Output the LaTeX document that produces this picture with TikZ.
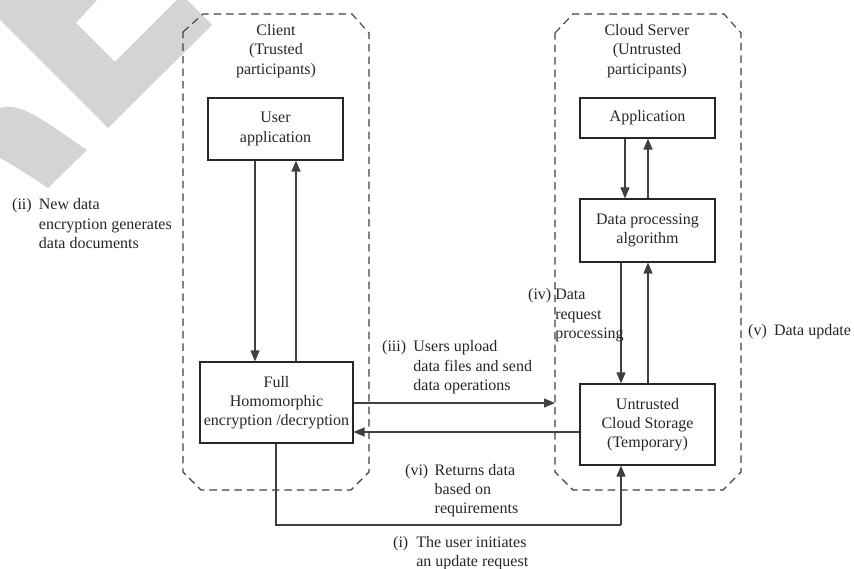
\documentclass[tikz,border=0pt]{standalone}
\usepackage{fontspec}
\setmainfont{Liberation Serif}
\usetikzlibrary{arrows.meta,calc}
\begin{document}
\begin{tikzpicture}[x=1pt,y=-1pt,
  every node/.style={font=\fontsize{16}{19.2}\selectfont, text=black!85},
  box/.style={draw=black!85, line width=1.1pt, align=center, inner sep=2pt},
  region/.style={draw=black!75, line width=1.1pt, dash pattern=on 7.5pt off 5pt},
  arr/.style={draw=black!75, line width=1.1pt, -{Triangle[length=11pt,width=9pt]}},
  ln/.style={draw=black!75, line width=1.1pt},
  lbl/.style={anchor=base west, inner sep=0pt}]
\useasboundingbox (0,0) rectangle (854,569);
% watermark
\fill[black!17] (0,0) -- (97,0) -- (76,23) -- (115,62) -- (177,0) -- (187,0) -- (212,25) -- (108,128) -- (0,20) -- cycle;
\fill[black!17] (0,108) .. controls (20,102) and (40,118) .. (87,150) -- (48,188) .. controls (30,176) and (15,166) .. (0,158) -- cycle;
% regions
\draw[region] (183,32) -- (203,14) -- (352,14) -- (369,33) -- (369,472) -- (351,490) -- (201,490) -- (183,472) -- cycle;
\draw[region] (555,33) -- (573,14) -- (724,14) -- (741,33) -- (741,472) -- (723,490) -- (573,490) -- (555,472) -- cycle;
\coordinate (srvleft) at (555,403);
% headers
\node[align=center] (client) at (276,51) {Client\\(Trusted\\participants)};
\node[align=center] (server) at (647,51) {Cloud Server\\(Untrusted\\participants)};
% boxes
\node[box, minimum width=135pt, minimum height=62pt] (ua) at (275.5,129) {User\\application};
\node[box, minimum width=135pt, minimum height=40pt] (app) at (647.5,118) {Application};
\node[box, minimum width=135pt, minimum height=63pt] (dpa) at (647.5,230.5) {Data processing\\algorithm};
\node[box, minimum width=135pt, minimum height=81pt] (ucs) at (647.5,424.5) {Untrusted\\Cloud Storage\\(Temporary)};
\node[box, minimum width=153pt, minimum height=81pt] (fhe) at (276.5,402.5) {Full\\Homomorphic\\encryption /decryption};
% connectors
\draw[arr] ([xshift=-20.5pt]ua.south) -- ([xshift=-20.5pt]ua.south |- fhe.north);
\draw[arr] ([xshift=20.5pt]ua.south |- fhe.north) -- ([xshift=20.5pt]ua.south);
\draw[arr] ([xshift=-22.5pt]app.south) -- ([xshift=-22.5pt]app.south |- dpa.north);
\draw[arr] ([xshift=0.5pt]app.south |- dpa.north) -- ([xshift=0.5pt]app.south);
\draw[arr] ([xshift=-26.5pt]dpa.south) -- ([xshift=-26.5pt]dpa.south |- ucs.north);
\draw[arr] ([xshift=0.5pt]dpa.south |- ucs.north) -- ([xshift=0.5pt]dpa.south);
\draw[arr] (fhe.east |- srvleft) -- (srvleft);
\draw[arr] (ucs.west |- 0,432) -- (fhe.east |- 0,432);
\coordinate (bl) at (276,525);
\coordinate (br) at (621,525);
\draw[ln] (fhe.south -| bl) -- (bl) -- (br);
\draw[arr] (br) -- (br |- ucs.south);
% labels
\node[lbl] (l2) at (12,210) {\begin{tabular}[t]{@{}l@{\hspace{0.45em}}l@{}}(ii)&New data\\&encryption generates\\&data documents\end{tabular}};
\node[lbl] (l3) at (382,352) {\begin{tabular}[t]{@{}l@{\hspace{0.45em}}l@{}}(iii)&Users upload\\&data files and send\\&data operations\end{tabular}};
\node[lbl] (l4) at (528,300) {\begin{tabular}[t]{@{}l@{\hspace{0.25em}}l@{}}(iv)&Data\\&request\\&processing\end{tabular}};
\node[lbl] (l5) at (748,335) {\begin{tabular}[t]{@{}l@{\hspace{0.45em}}l@{}}(v)&Data update\end{tabular}};
\node[lbl] (l6) at (405,475) {\begin{tabular}[t]{@{}l@{\hspace{0.4em}}l@{}}(vi)&Returns data\\&based on\\&requirements\end{tabular}};
\node[lbl] (l1) at (393,547) {\begin{tabular}[t]{@{}l@{\hspace{0.5em}}l@{}}(i)&The user initiates\\&an update request\end{tabular}};
\end{tikzpicture}
\end{document}
